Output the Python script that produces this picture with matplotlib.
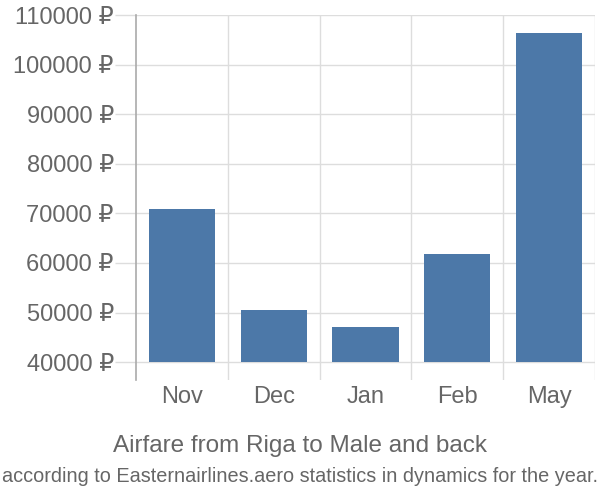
import matplotlib.pyplot as plt
import matplotlib as mpl

mpl.rcParams['font.family'] = ['Liberation Sans', 'DejaVu Sans']

months = ['Nov', 'Dec', 'Jan', 'Feb', 'May']
prices = [70800, 50600, 47100, 61900, 106300]
y_ticks = [40000, 50000, 60000, 70000, 80000, 90000, 100000, 110000]
title = 'Airfare from Riga to Male and back'
subtitle = 'according to Easternairlines.aero statistics in dynamics for the year.'

bar_color = '#4c78a8'
grid_color = '#dddddd'
text_color = '#666666'

fig = plt.figure(figsize=(6, 5), dpi=100)
ax = fig.add_axes([136/600, 1-380/500, (595-136)/600, (380-15)/500])

x = list(range(len(months)))
ax.bar(x, [p - 40000 for p in prices], bottom=40000, width=0.72, color=bar_color, zorder=3)

ax.set_xlim(-0.5, len(months) - 0.5)
ax.set_ylim(36400, 110000)

# vertical grid at category boundaries
for b in [i - 0.5 for i in range(1, len(months) + 1)]:
    ax.axvline(b, color=grid_color, lw=1, zorder=1)
for t in y_ticks:
    ax.axhline(t, color=grid_color, lw=1, zorder=1)

ax.set_yticks(y_ticks)
ax.set_yticklabels(['%d ₽' % t for t in y_ticks])
ax.set_xticks(x)
ax.set_xticklabels(months)
ax.tick_params(axis='y', length=15, color=grid_color, width=1, pad=1, labelsize=17, labelcolor=text_color)
ax.tick_params(axis='x', length=0, pad=4, labelsize=17, labelcolor=text_color)

for s in ['top', 'right', 'bottom']:
    ax.spines[s].set_visible(False)
ax.spines['left'].set_color('#aaaaaa')
ax.spines['left'].set_linewidth(1.2)

fig.text(300/600, 1-446/500, title, ha='center', va='center', fontsize=17.5, color=text_color)
fig.text(300/600, 1-476/500, subtitle, ha='center', va='center', fontsize=14.3, color=text_color)

fig.savefig('out.png', dpi=100)
